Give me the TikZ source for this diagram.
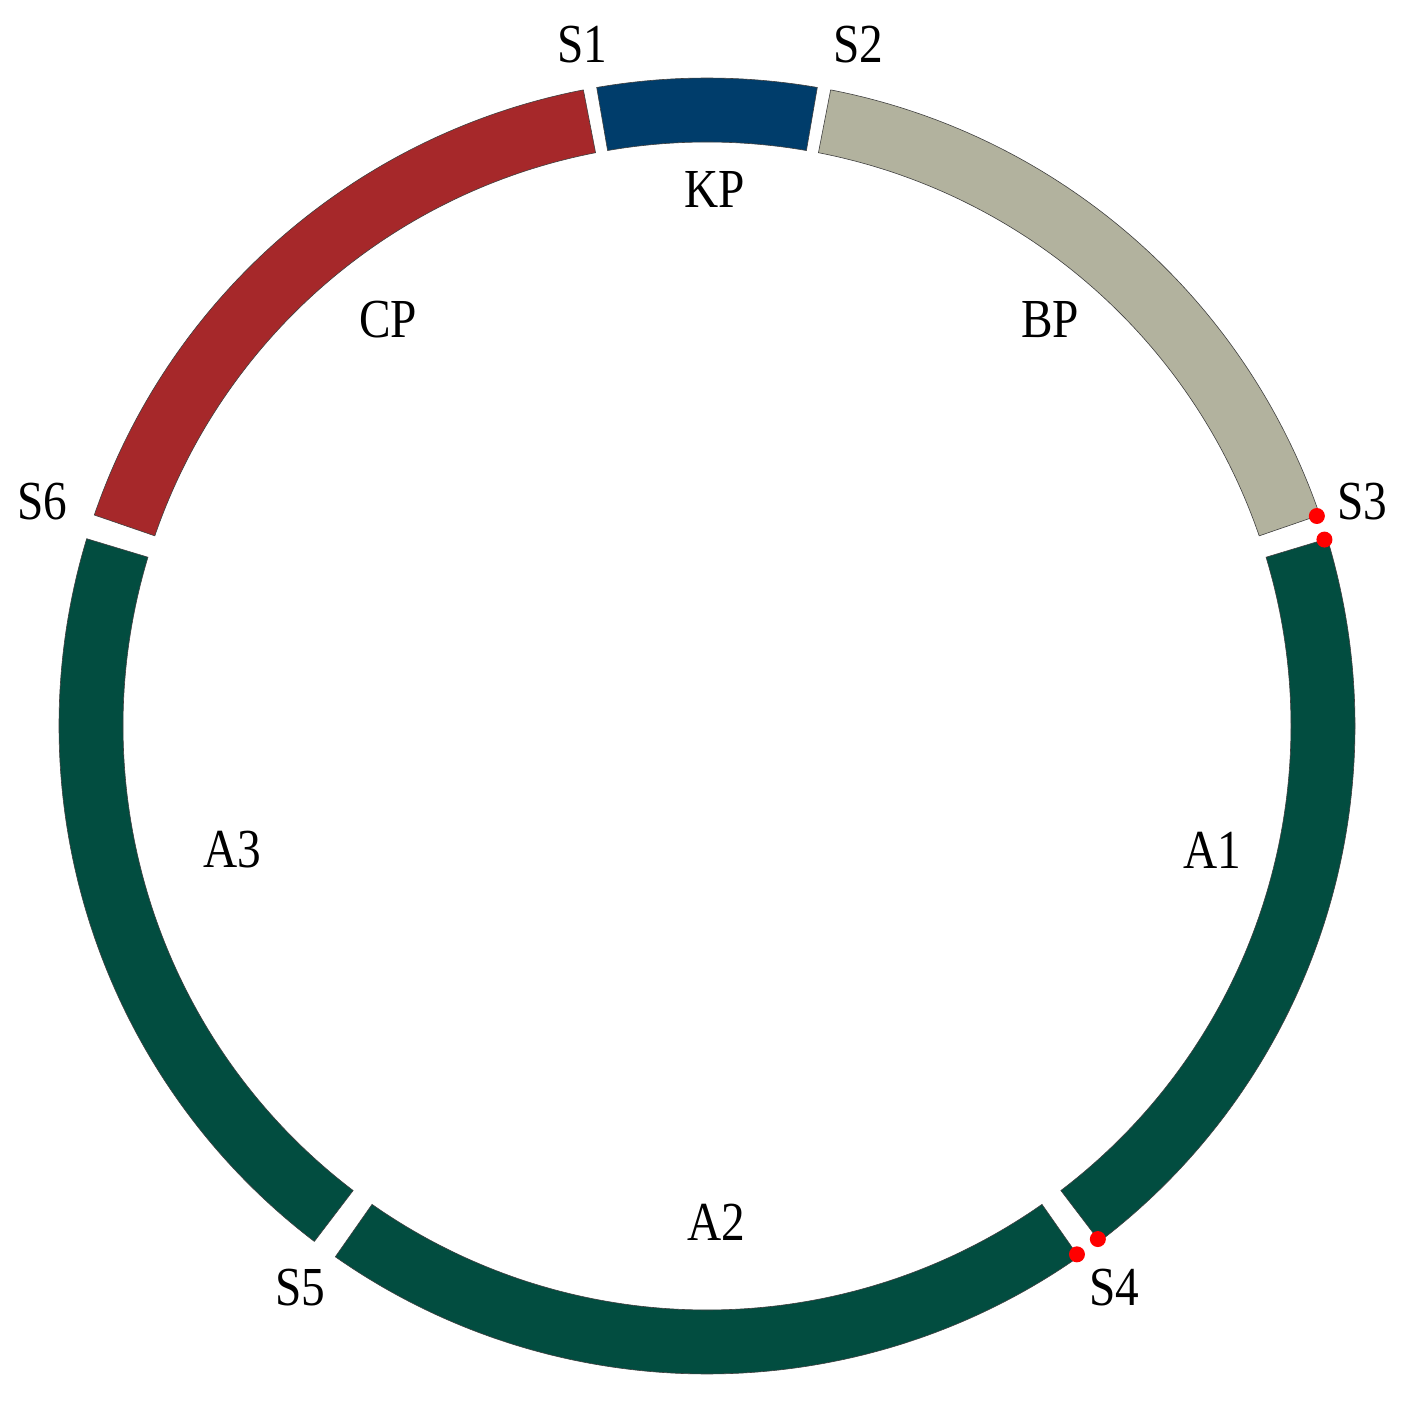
\documentclass[tikz,border=0pt]{standalone}
\usepackage{fontspec}
\setmainfont{Liberation Serif}[FakeStretch=0.86]
\usetikzlibrary{calc}
\definecolor{kpblue}{RGB}{0,61,107}
\definecolor{bpgrey}{RGB}{178,178,158}
\definecolor{cpred}{RGB}{166,40,42}
\definecolor{agreen}{RGB}{2,77,64}
\begin{document}
\begin{tikzpicture}[x=1pt,y=1pt,
  seg/.style={draw=black!75,line width=0.6pt},
  lbl/.style={inner sep=0pt,font=\fontsize{55}{64}\selectfont},
  reddot/.style={circle,fill=red,inner sep=0pt,minimum size=16pt}]
\useasboundingbox (0,0) rectangle (1404,1411);
\def\Ro{648}\def\Ri{584}
\newcommand{\ringseg}[3]{%
  \path[seg,fill=#1] ($(707,685)+(#2:\Ro)$) arc[start angle=#2,end angle=#3,radius=\Ro]
    -- ($(707,685)+(#3:\Ri)$) arc[start angle=#3,end angle=#2,radius=\Ri] -- cycle;}
\ringseg{kpblue}{80.2}{99.8}
\ringseg{bpgrey}{19.0}{79.0}
\ringseg{cpred}{101.0}{161.0}
\ringseg{agreen}{163.2}{232.7}
\ringseg{agreen}{235.0}{305.0}
\ringseg{agreen}{-52.7}{16.8}
% red dots
\node[reddot] (d1) at ($(707,685)+(19.0:645)$) {};
\node[reddot] (d2) at ($(707,685)+(16.8:645)$) {};
\node[reddot] (d3) at ($(707,685)+(-52.7:645)$) {};
\node[reddot] (d4) at ($(707,685)+(-55.0:645)$) {};
% labels
\node[lbl] (s1) at (582,1366) {S1};
\node[lbl] (s2) at (858,1366) {S2};
\node[lbl] (s3) at (1362,909) {S3};
\node[lbl] (s4) at (1114,123) {S4};
\node[lbl] (s5) at (300,123) {S5};
\node[lbl] (s6) at (42,909) {S6};
\node[lbl] (kp) at (715,1221) {KP};
\node[lbl] (cp) at (388,1091) {CP};
\node[lbl] (bp) at (1050,1091) {BP};
\node[lbl] (a1) at (1212,561) {A1};
\node[lbl] (a2) at (716,189) {A2};
\node[lbl] (a3) at (232,561) {A3};
\end{tikzpicture}
\end{document}
